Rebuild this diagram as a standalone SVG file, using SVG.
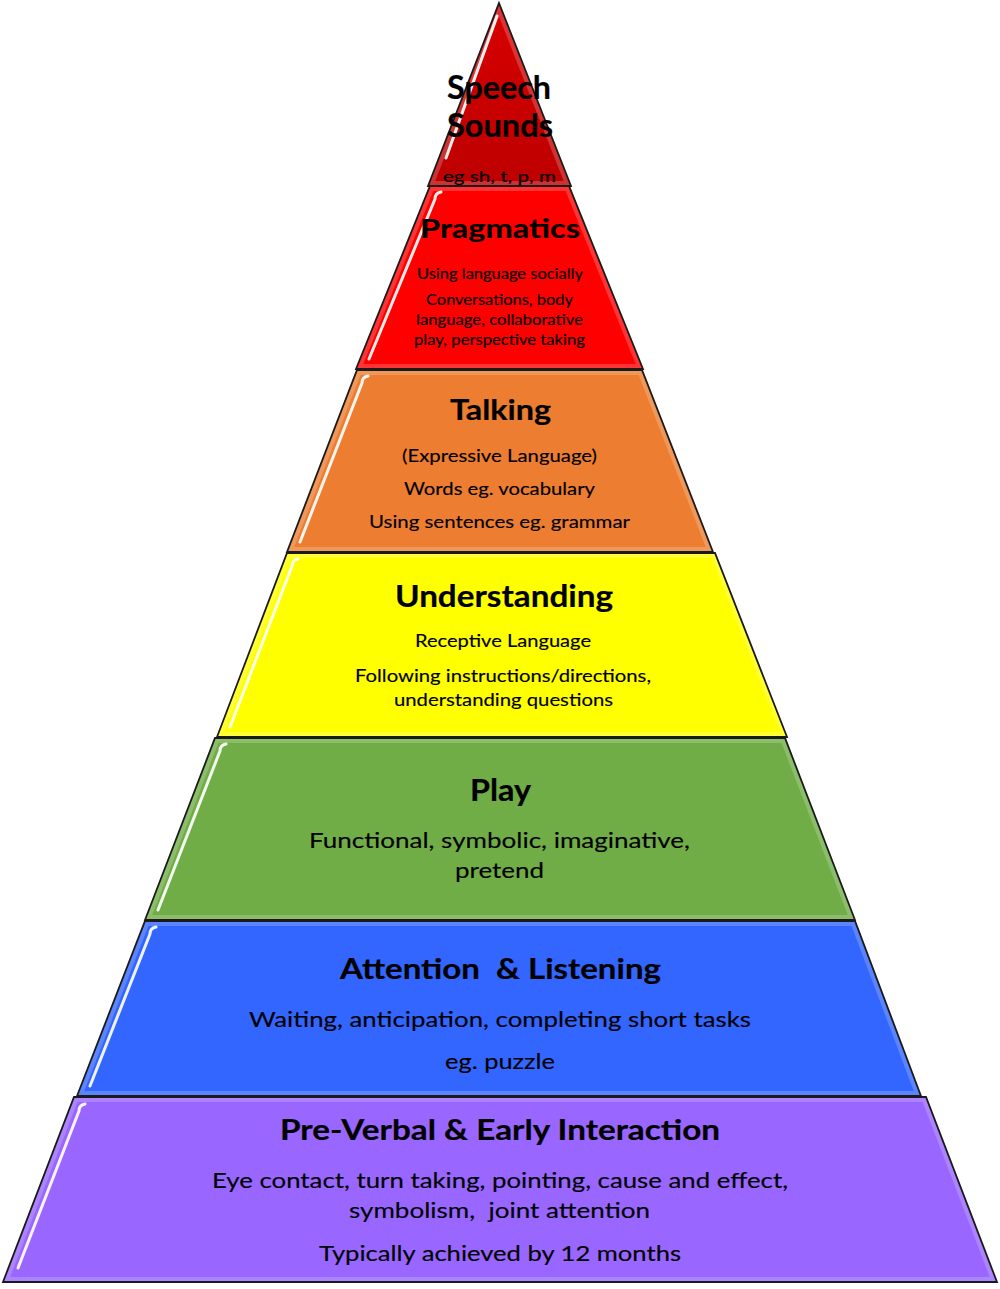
<svg xmlns="http://www.w3.org/2000/svg" width="1000" height="1289" viewBox="0 0 1000 1289">
<defs>
<style>
.outline{fill:none;stroke:#1a1a1a;stroke-width:1.8;stroke-linejoin:miter}
.inner{fill:none;stroke:#fff;stroke-opacity:0.2;stroke-width:10}
.hl{fill:none;stroke:#fff;stroke-width:3;stroke-linecap:round;stroke-opacity:0.92}
.t{font-family:Lato,"Open Sans","Liberation Sans",sans-serif;fill:#000;white-space:pre;stroke:#000;stroke-width:0.15}
.h{font-weight:bold;stroke-width:0.2}
</style>
<linearGradient id="g1" x1="0" y1="0" x2="0" y2="1">
<stop offset="0" stop-color="#d80000"/>
<stop offset="1" stop-color="#bd0000"/>
</linearGradient>
<polygon id="p1" points="499,3 571,186 428,186"/>
<polygon id="p2" points="430,186 569,186 643,369 356,369"/>
<polygon id="p3" points="357,370 642,370 713,552 287,552"/>
<polygon id="p4" points="287,553 715,553 787,737 217,737"/>
<polygon id="p5" points="215,738 785,738 855,920 145,920"/>
<polygon id="p6" points="145,921 855,921 921,1096 77,1096"/>
<polygon id="p7" points="74,1097 926,1097 997,1282 3,1282"/>
<clipPath id="c1"><use href="#p1"/></clipPath>
<clipPath id="c2"><use href="#p2"/></clipPath>
<clipPath id="c3"><use href="#p3"/></clipPath>
<clipPath id="c4"><use href="#p4"/></clipPath>
<clipPath id="c5"><use href="#p5"/></clipPath>
<clipPath id="c6"><use href="#p6"/></clipPath>
<clipPath id="c7"><use href="#p7"/></clipPath>
</defs>
<rect width="1000" height="1289" fill="#fff"/>

<g id="pre-verbal">
<use href="#p7" fill="#9966ff"/>
<use href="#p7" class="inner" clip-path="url(#c7)"/>
<path class="hl" d="M85,1104 Q79,1105 79,1111 L18,1268"/>
<use href="#p7" class="outline"/>
<text class="t h" x="280" y="1140" font-size="28" textLength="440" lengthAdjust="spacingAndGlyphs">Pre-Verbal &amp; Early Interaction</text>
<text class="t" x="212" y="1188" font-size="22" textLength="576" lengthAdjust="spacingAndGlyphs">Eye contact, turn taking, pointing, cause and effect,</text>
<text class="t" x="349" y="1218" font-size="22" textLength="301" lengthAdjust="spacingAndGlyphs">symbolism,  joint attention</text>
<text class="t" x="319" y="1261" font-size="22" textLength="362" lengthAdjust="spacingAndGlyphs">Typically achieved by 12 months</text>
</g>

<g id="attention">
<use href="#p6" fill="#3366ff"/>
<use href="#p6" class="inner" clip-path="url(#c6)"/>
<path class="hl" d="M156,927 Q150,928 150,934 L90,1086"/>
<use href="#p6" class="outline"/>
<text class="t h" x="340" y="979" font-size="29" textLength="321" lengthAdjust="spacingAndGlyphs">Attention  &amp; Listening</text>
<text class="t" x="249" y="1027" font-size="22" textLength="502" lengthAdjust="spacingAndGlyphs">Waiting, anticipation, completing short tasks</text>
<text class="t" x="445" y="1069" font-size="22" textLength="110" lengthAdjust="spacingAndGlyphs">eg. puzzle</text>
</g>

<g id="play">
<use href="#p5" fill="#70ad47"/>
<use href="#p5" class="inner" clip-path="url(#c5)"/>
<path class="hl" d="M226,744 Q220,745 220,751 L158,910"/>
<use href="#p5" class="outline"/>
<text class="t h" x="470" y="801" font-size="30" textLength="61" lengthAdjust="spacingAndGlyphs">Play</text>
<text class="t" x="309" y="848" font-size="22" textLength="381" lengthAdjust="spacingAndGlyphs">Functional, symbolic, imaginative,</text>
<text class="t" x="455" y="878" font-size="22" textLength="89" lengthAdjust="spacingAndGlyphs">pretend</text>
</g>

<g id="understanding">
<use href="#p4" fill="#ffff00"/>
<use href="#p4" class="inner" clip-path="url(#c4)"/>
<path class="hl" d="M298,559 Q292,560 292,566 L230,727"/>
<use href="#p4" class="outline"/>
<text class="t h" x="395" y="607" font-size="31" textLength="218" lengthAdjust="spacingAndGlyphs">Understanding</text>
<text class="t" x="415" y="647" font-size="18" textLength="176" lengthAdjust="spacingAndGlyphs">Receptive Language</text>
<text class="t" x="355" y="682" font-size="18" textLength="296" lengthAdjust="spacingAndGlyphs">Following instructions/directions,</text>
<text class="t" x="394" y="706" font-size="18" textLength="219" lengthAdjust="spacingAndGlyphs">understanding questions</text>
</g>

<g id="talking">
<use href="#p3" fill="#ed7d31"/>
<use href="#p3" class="inner" clip-path="url(#c3)"/>
<path class="hl" d="M368,376 Q362,377 362,383 L300,542"/>
<use href="#p3" class="outline"/>
<text class="t h" x="450" y="420" font-size="29" textLength="101" lengthAdjust="spacingAndGlyphs">Talking</text>
<text class="t" x="402" y="462" font-size="18" textLength="195" lengthAdjust="spacingAndGlyphs">(Expressive Language)</text>
<text class="t" x="404" y="495" font-size="18" textLength="191" lengthAdjust="spacingAndGlyphs">Words eg. vocabulary</text>
<text class="t" x="369" y="528" font-size="18" textLength="261" lengthAdjust="spacingAndGlyphs">Using sentences eg. grammar</text>
</g>

<g id="pragmatics">
<use href="#p2" fill="#ff0000"/>
<use href="#p2" class="inner" clip-path="url(#c2)"/>
<path class="hl" d="M441,192 Q435,193 435,199 L369,359"/>
<use href="#p2" class="outline"/>
<text class="t h" x="420" y="238" font-size="27" textLength="160" lengthAdjust="spacingAndGlyphs">Pragmatics</text>
<text class="t" x="417" y="279" font-size="15.5" textLength="166" lengthAdjust="spacingAndGlyphs">Using language socially</text>
<text class="t" x="426" y="305" font-size="15.5" textLength="147" lengthAdjust="spacingAndGlyphs">Conversations, body</text>
<text class="t" x="416" y="325" font-size="15.5" textLength="167" lengthAdjust="spacingAndGlyphs">language, collaborative</text>
<text class="t" x="414" y="345" font-size="15.5" textLength="171" lengthAdjust="spacingAndGlyphs">play, perspective taking</text>
</g>

<g id="speech-sounds">
<use href="#p1" fill="url(#g1)"/>
<use href="#p1" class="inner" clip-path="url(#c1)"/>
<path class="hl" d="M497,16 L446,158" stroke-opacity="0.75"/>
<use href="#p1" class="outline"/>
<text class="t h" x="447" y="99" font-size="32" textLength="104" lengthAdjust="spacingAndGlyphs">Speech</text>
<text class="t h" x="447" y="137" font-size="32" textLength="106" lengthAdjust="spacingAndGlyphs">Sounds</text>
<text class="t" x="443" y="182" font-size="16" textLength="113" lengthAdjust="spacingAndGlyphs">eg sh, t, p, m</text>
</g>

<g id="connectors"></g>
</svg>
